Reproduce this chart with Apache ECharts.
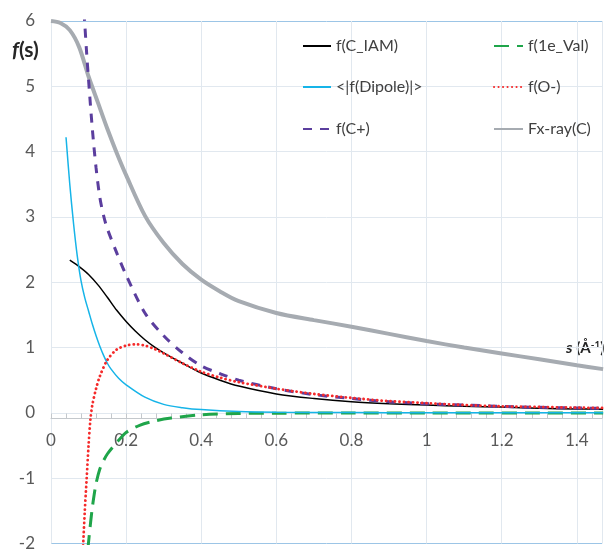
<!DOCTYPE html>
<html><head><meta charset="utf-8">
<script src="https://cdn.jsdelivr.net/npm/echarts@6/dist/echarts.min.js"></script>
<style>html,body{margin:0;padding:0;background:#fff}#c{width:605px;height:552px}</style>
</head><body><div id="c"></div>
<script>
// ---- data (s in Å^-1, f(s)) ----
const xTicks = [0, 0.2, 0.4, 0.6, 0.8, 1, 1.2, 1.4];
const yTicks = [-2, -1, 0, 1, 2, 3, 4, 5, 6];

const sIAM = [0.05,0.075,0.1,0.125,0.15,0.175,0.2,0.225,0.25,0.275,0.3,0.35,0.4,0.45,0.5,0.6,0.7,0.8,0.9,1.0,1.1,1.2,1.3,1.4,1.47];
const fIAM = [2.34,2.24,2.12,1.96,1.77,1.57,1.40,1.25,1.12,1.01,0.92,0.76,0.61,0.5,0.41,0.29,0.22,0.17,0.14,0.12,0.1,0.09,0.07,0.06,0.055];

const sVal = [0.098,0.1,0.105,0.11,0.115,0.12,0.13,0.14,0.15,0.165,0.18,0.2,0.236,0.28,0.32,0.4,0.5,0.6,0.8,1.0,1.47];
const fVal = [-2.1,-1.98,-1.7,-1.45,-1.25,-1.08,-0.86,-0.73,-0.63,-0.52,-0.42,-0.3,-0.19,-0.12,-0.08,-0.03,-0.01,-0.005,0,0,0];

const sDip = [0.04,0.05,0.06,0.07,0.08,0.09,0.1,0.11,0.12,0.13,0.14,0.15,0.16,0.18,0.2,0.25,0.3,0.35,0.4,0.5,0.6,0.8,1.0,1.47];
const fDip = [4.22,3.5,2.9,2.4,2.02,1.76,1.56,1.36,1.18,1.02,0.88,0.76,0.67,0.53,0.43,0.24,0.13,0.08,0.05,0.02,0.01,0.005,0.003,0.002];

const sOm = [0.085,0.09,0.095,0.1,0.105,0.11,0.12,0.13,0.15,0.175,0.2,0.225,0.25,0.275,0.3,0.35,0.4,0.45,0.5,0.6,0.7,0.8,0.9,1.0,1.1,1.2,1.3,1.4,1.47];
const fOm = [-2.1,-1.5,-1.0,-0.5,-0.1,0.12,0.37,0.56,0.81,0.97,1.03,1.05,1.03,0.98,0.91,0.76,0.63,0.54,0.47,0.37,0.29,0.23,0.18,0.15,0.12,0.1,0.09,0.08,0.075];

const sCp = [0.085,0.09,0.095,0.1,0.11,0.12,0.13,0.14,0.15,0.175,0.2,0.25,0.3,0.35,0.4,0.45,0.5,0.6,0.7,0.8,0.9,1.0,1.1,1.2,1.3,1.4,1.47];
const fCp = [6.4,5.95,5.5,5.1,4.35,3.75,3.3,3.02,2.82,2.45,2.11,1.53,1.18,0.92,0.72,0.6,0.5,0.37,0.28,0.22,0.17,0.14,0.12,0.1,0.085,0.075,0.07];

const sX = [0,0.025,0.05,0.075,0.1,0.125,0.15,0.175,0.2,0.25,0.3,0.35,0.4,0.45,0.5,0.6,0.7,0.8,0.9,1.0,1.1,1.2,1.3,1.4,1.47];
const fX = [6.0,5.97,5.86,5.6,5.15,4.75,4.35,3.98,3.64,3.02,2.6,2.28,2.04,1.86,1.71,1.53,1.42,1.32,1.21,1.1,1.0,0.91,0.82,0.73,0.67];

const zip = (a, b) => a.map((v, i) => [v, b[i]]);
const FONT = 'Lato';

const chart = echarts.init(document.getElementById('c'));
const yLineColors = yTicks.map((v, i) => (i === 0 || i === yTicks.length - 1) ? '#9cc5e6' : '#e1e8ef');

function mkLegend(name, left, top, w) {
  return {
    data: [name], left: left, top: top, padding: 0, itemWidth: w, itemHeight: 14,
    itemStyle: { opacity: 0, borderWidth: 0 },
    textStyle: { fontFamily: FONT, fontSize: 16, color: '#404040', lineHeight: 18 },
    selectedMode: false
  };
}

const option = {
  animation: false,
  grid: { left: 51, right: 0, top: 21, bottom: 6 },
  xAxis: {
    type: 'value', min: 0, max: 1.467, interval: 0.2,
    axisLine: { onZero: false, lineStyle: { color: '#c4c8cc', width: 1 } },
    axisTick: { show: true, inside: true, length: 5, lineStyle: { color: '#c4c8cc' } },
    minorTick: { show: true, splitNumber: 5, length: 5, lineStyle: { color: '#c4c8cc' } },
    axisLabel: {
      fontFamily: FONT, fontSize: 17, color: '#595959', margin: 14,
      formatter: v => {
        const q = v / 0.2;
        return Math.abs(q - Math.round(q)) < 1e-6 ? String(+v.toFixed(1)) : '';
      }
    },
    splitLine: { show: true, lineStyle: { color: '#e1e8ef', width: 1 } }
  },
  yAxis: {
    type: 'value', min: yTicks[0], max: yTicks[yTicks.length - 1], interval: 1,
    axisLine: { show: false }, axisTick: { show: false },
    axisLabel: { fontFamily: FONT, fontSize: 17, color: '#595959', margin: 16 },
    splitLine: { show: true, lineStyle: { color: yLineColors, width: 1 } }
  },
  legend: [
    mkLegend('f(C_IAM)', 302, 37, 28),
    mkLegend('f(1e_Val)', 493, 37, 29),
    mkLegend('<|f(Dipole)|>', 302, 78, 28),
    mkLegend('f(O-)', 493, 78, 29),
    mkLegend('f(C+)', 302, 120, 28),
    mkLegend('Fx-ray(C)', 493, 120, 29)
  ],
  graphic: [
    { type: 'text', left: 12, top: 40, style: {
      rich: {
        i: { fontFamily: FONT, fontSize: 21, fontStyle: 'italic', fontWeight: 'bold', fill: '#262626' },
        n: { fontFamily: FONT, fontSize: 21, fontWeight: 'bold', fill: '#262626' }
      },
      text: '{i|f}{n|(s)}' } },
    { type: 'text', left: 566, top: 340, style: {
      rich: {
        i: { fontFamily: FONT, fontSize: 16, fontStyle: 'italic', fontWeight: 'bold', fill: '#262626' },
        n: { fontFamily: FONT, fontSize: 15, fontWeight: 'bold', fill: '#262626' },
        s: { fontFamily: FONT, fontSize: 10, fontWeight: 'bold', fill: '#262626', verticalAlign: 'top', padding: [0,0,6,0] }
      },
      text: '{i|s}{n| (Å}{s|-1}{n|)}' } }
  ],
  series: [
    { name: 'Fx-ray(C)', type: 'line', data: zip(sX, fX), symbol: 'none', smooth: 0.3, z: 1,
      lineStyle: { color: '#a6abb1', width: 4 }, itemStyle: { color: '#a6abb1' } },
    { name: 'f(C_IAM)', type: 'line', data: zip(sIAM, fIAM), symbol: 'none', smooth: 0.3, z: 2,
      lineStyle: { color: '#000000', width: 1.5 }, itemStyle: { color: '#000000' } },
    { name: 'f(1e_Val)', type: 'line', data: zip(sVal, fVal), symbol: 'none', smooth: 0.3, z: 3,
      lineStyle: { color: '#1fa54a', width: 3, type: [15, 8] }, itemStyle: { color: '#1fa54a' } },
    { name: '<|f(Dipole)|>', type: 'line', data: zip(sDip, fDip), symbol: 'none', smooth: 0.3, z: 4,
      lineStyle: { color: '#16b4e8', width: 1.5 }, itemStyle: { color: '#16b4e8' } },
    { name: 'f(C+)', type: 'line', data: zip(sCp, fCp), symbol: 'none', smooth: 0.3, z: 5,
      lineStyle: { color: '#5b3e9e', width: 3, type: [9, 8] }, itemStyle: { color: '#5b3e9e' } },
    { name: 'f(O-)', type: 'line', data: zip(sOm, fOm), symbol: 'none', smooth: 0.3, z: 6,
      lineStyle: { color: '#f52a2a', width: 2.8, type: [0.1, 4.4], cap: 'round' }, itemStyle: { color: '#f52a2a' } }
  ]
};
chart.setOption(option);

// place the x axis (line, ticks, labels) on y = 0, using the library's own y scale
const yZero = chart.convertToPixel({ yAxisIndex: 0 }, 0);
const yBottom = chart.convertToPixel({ yAxisIndex: 0 }, yTicks[0]);
chart.setOption({ xAxis: { offset: -(yBottom - yZero) } });
</script></body></html>
